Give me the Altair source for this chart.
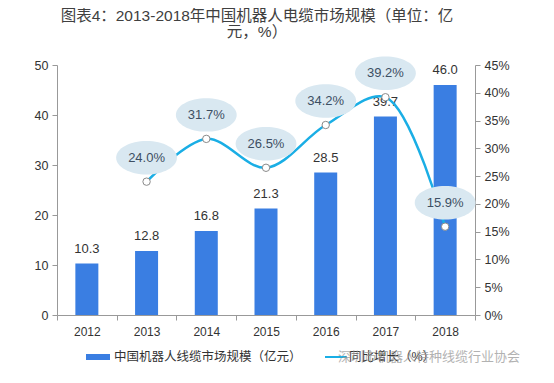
import altair as alt
import pandas as pd

years = ["2012", "2013", "2014", "2015", "2016", "2017", "2018"]
market = [10.3, 12.8, 16.8, 21.3, 28.5, 39.7, 46.0]
growth_years = ["2013", "2014", "2015", "2016", "2017", "2018"]
growth = [24.0, 31.7, 26.5, 34.2, 39.2, 15.9]
left_ticks = [0, 10, 20, 30, 40, 50]
right_ticks = [0, 5, 10, 15, 20, 25, 30, 35, 40, 45]

title_lines = ["图表4：2013-2018年中国机器人电缆市场规模（单位：亿", "元，%）"]
legend_bar = "中国机器人线缆市场规模（亿元）"
legend_line = "同比增长（%）"
watermark = "深圳市机器人特种线缆行业协会"

FONT = "Liberation Sans, Noto Sans CJK SC, sans-serif"

df_bar = pd.DataFrame({"year": years, "value": market})
df_line = pd.DataFrame({"year": growth_years, "pct": growth})
df_line["label"] = [f"{v:.1f}%" for v in growth]
df_bar["label"] = [f"{v:.1f}" for v in market]

xenc = alt.X("year:N", title=None, sort=years,
             scale=alt.Scale(paddingInner=0, paddingOuter=0),
             axis=alt.Axis(labelAngle=0, tickBand="extent", labelFontSize=12,
                           labelColor="#333", domainColor="#999", tickColor="#999",
                           tickSize=5, labelPadding=6, labelFont=FONT))

yleft = alt.Y("value:Q", title=None,
              scale=alt.Scale(domain=[0, 50]),
              axis=alt.Axis(values=left_ticks, grid=False, labelOverlap=False,
                            labelFontSize=12.5, labelColor="#333", domainColor="#999",
                            tickColor="#999", tickSize=5, labelPadding=4, labelFont=FONT))
yleft_plain = alt.Y("value:Q", scale=alt.Scale(domain=[0, 50]))

bars = alt.Chart(df_bar).mark_bar(size=23, color="#3a7ee2").encode(x=xenc, y=yleft)
bar_text = alt.Chart(df_bar).mark_text(dy=-15, fontSize=13, color="#333", font=FONT).encode(
    x=xenc, y=yleft_plain, text="label:N")

# manual legend
one = df_bar.head(1)
leg_rect = alt.Chart(one).mark_rect(color="#3a7ee2").encode(
    x=alt.value(29), x2=alt.value(53), y=alt.value(289), y2=alt.value(295))
leg_text1 = alt.Chart(one).mark_text(align="left", baseline="middle", fontSize=12.5,
                                     color="#333", font=FONT).encode(
    x=alt.value(57), y=alt.value(292), text=alt.value(legend_bar))
leg_line = alt.Chart(one).mark_rule(color="#1aaee5", strokeWidth=2).encode(
    x=alt.value(268), x2=alt.value(290), y=alt.value(292))
leg_text2 = alt.Chart(one).mark_text(align="left", baseline="middle", fontSize=12.5,
                                     color="#333", font=FONT).encode(
    x=alt.value(292), y=alt.value(292), text=alt.value(legend_line))
wm_text = alt.Chart(one).mark_text(align="left", baseline="middle", fontSize=13,
                                   color="#999", opacity=0.75, font=FONT).encode(
    x=alt.value(281), y=alt.value(292), text=alt.value(watermark))

left = alt.layer(bars, bar_text, leg_rect, leg_text1, leg_line, leg_text2, wm_text)

yright = alt.Y("pct:Q", title=None, scale=alt.Scale(domain=[0, 45]),
               axis=alt.Axis(orient="right", values=right_ticks, tickCount=10,
                             labelOverlap=False, grid=False,
                             labelExpr="datum.value + '%'", labelFontSize=12.5,
                             labelColor="#333", domainColor="#999", tickColor="#999",
                             tickSize=5, labelPadding=4, labelFont=FONT))
yright_plain = alt.Y("pct:Q", scale=alt.Scale(domain=[0, 45]))

line = alt.Chart(df_line).mark_line(color="#1aaee5", strokeWidth=2.5,
                                    interpolate="catmull-rom").encode(x=xenc, y=yright)
ellipse = alt.Chart(df_line).mark_point(
    shape="M -1 0 A 1 0.55 0 1 0 1 0 A 1 0.55 0 1 0 -1 0 Z",
    size=3700, filled=True, color="#d9e8f1", opacity=1, yOffset=-24).encode(
    x=xenc, y=yright_plain)
pct_text = alt.Chart(df_line).mark_text(fontSize=13, color="#3d4f63", yOffset=-24,
                                        font=FONT).encode(
    x=xenc, y=yright_plain, text="label:N")
points = alt.Chart(df_line).mark_point(filled=True, fill="white", stroke="#8a8a8a",
                                       strokeWidth=1, size=55, opacity=1).encode(
    x=xenc, y=yright_plain)

right = alt.layer(line, ellipse, pct_text, points)

chart = alt.layer(left, right).resolve_scale(y="independent").properties(
    width=418, height=250,
    padding={"left": 49, "top": 57, "right": 50, "bottom": 60},
    autosize=alt.AutoSizeParams(type="none"),
    title=alt.TitleParams(text=title_lines, fontSize=15.5, font=FONT, color="#404040",
                          fontWeight="normal", anchor="middle", dx=-9, offset=16,
                          lineHeight=16),
).configure_view(stroke=None)

chart.save("out.html", embed_options={"renderer": "svg", "actions": False})
